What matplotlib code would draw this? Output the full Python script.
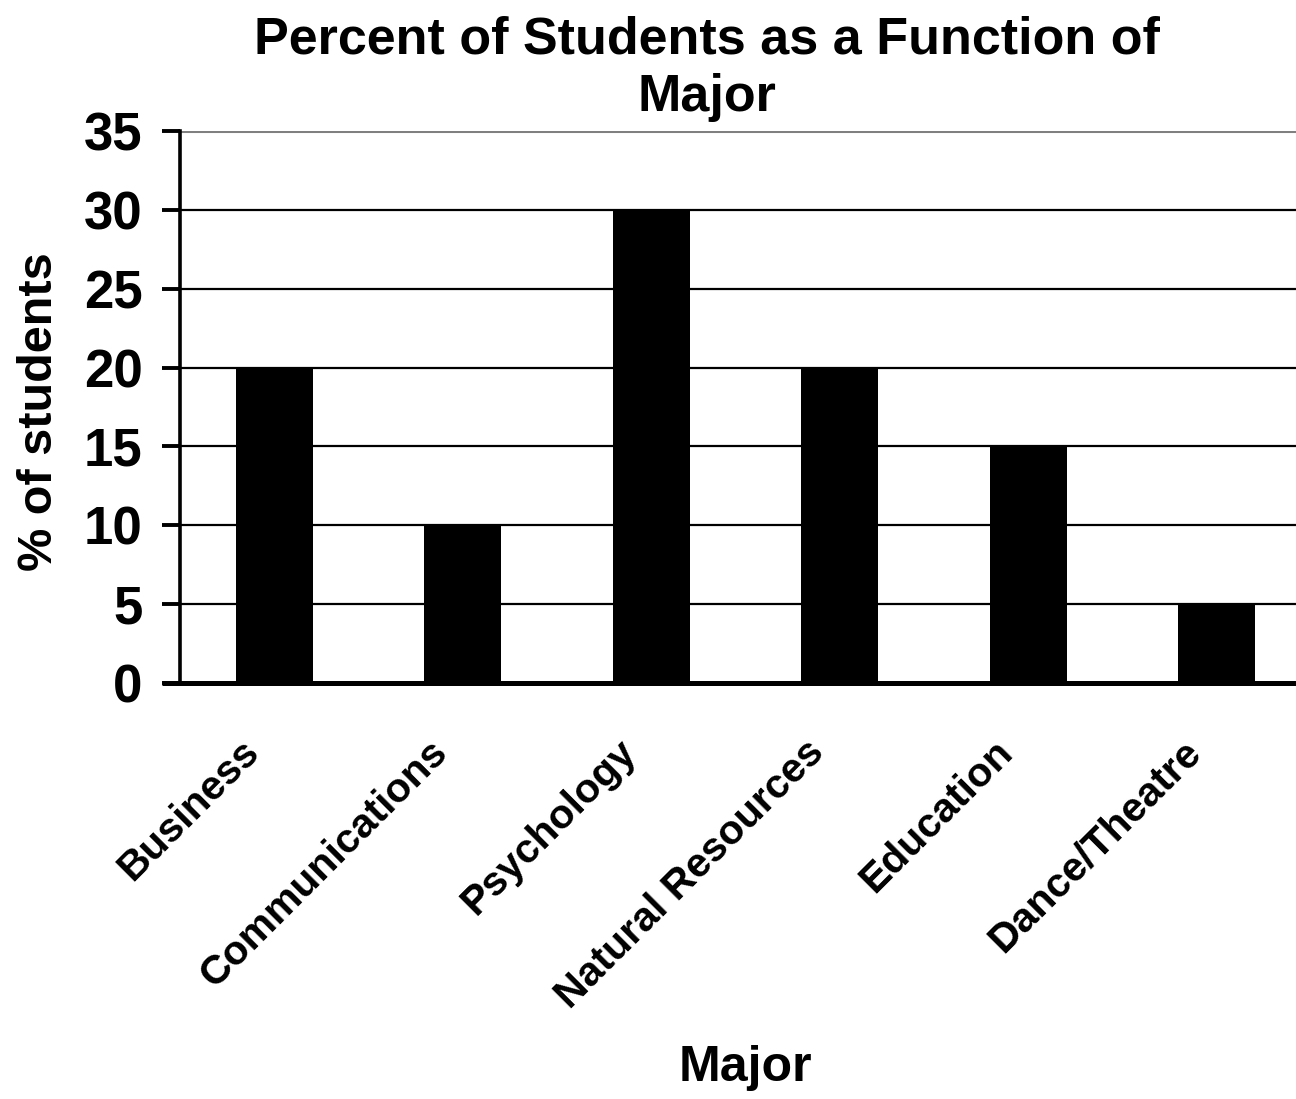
import matplotlib
matplotlib.use("Agg")
import matplotlib.pyplot as plt
import matplotlib.transforms as mtransforms

majors = ["Business", "Communications", "Psychology", "Natural Resources",
          "Education", "Dance/Theatre"]
percent = [20, 10, 30, 20, 15, 5]
y_ticks = [0, 5, 10, 15, 20, 25, 30, 35]

plt.rcParams["font.family"] = ["Liberation Sans", "DejaVu Sans"]
plt.rcParams["font.weight"] = "bold"

W, H = 1296, 1099
fig = plt.figure(figsize=(W / 100, H / 100), dpi=100)
ax = fig.add_axes([180 / W, 1 - 683 / H, 188.5 * 6 / W, (683 - 131) / H])

x = list(range(len(majors)))
ax.bar(x, percent, width=0.41, color="black", zorder=3)

ax.set_xlim(-0.5, len(majors) - 0.5)
ax.set_ylim(0, 35)
ax.set_yticks(y_ticks)
ax.set_yticklabels([str(v) for v in y_ticks], fontsize=38, fontweight="bold")

for v in y_ticks[1:-1]:
    ax.axhline(v, color="black", lw=1.6, zorder=1)
ax.axhline(35, color="#808080", lw=2.2, zorder=1)

for s in ["top", "right"]:
    ax.spines[s].set_visible(False)
ax.spines["left"].set_linewidth(2.6)
ax.spines["bottom"].set_linewidth(3.6)
ax.spines["bottom"].set_zorder(4)
ax.tick_params(axis="y", length=13, width=2.8, pad=14)
ax.tick_params(axis="x", length=0, pad=38)

ax.set_xticks(x)
ax.set_xticklabels(majors, rotation=45, ha="right", rotation_mode="anchor",
                   fontsize=29.5, fontweight="bold")
shift = mtransforms.ScaledTranslation(-35 / 100, 3 / 100, fig.dpi_scale_trans)
for lbl in ax.get_xticklabels():
    lbl.set_transform(lbl.get_transform() + shift)

# extend the zero line left past the spine like the tick marks
ax.plot([-0.5 - 18 / 188.5, -0.5], [0, 0], color="black", lw=3.6,
        clip_on=False, zorder=5, solid_capstyle="butt")

ax.set_ylabel("% of students", fontsize=35, fontweight="bold", labelpad=16)
ylab_shift = mtransforms.ScaledTranslation(0, -5 / 100, fig.dpi_scale_trans)
ax.yaxis.label.set_transform(ax.yaxis.label.get_transform() + ylab_shift)
fig.text(745 / W, 1 - 1068 / H, "Major", ha="center", va="center",
         fontsize=36, fontweight="bold")
fig.text(707 / W, 1 - 69 / H, "Percent of Students as a Function of\nMajor",
         ha="center", va="center", fontsize=37.5, fontweight="bold",
         linespacing=1.22)

fig.savefig("out.png", dpi=100)
